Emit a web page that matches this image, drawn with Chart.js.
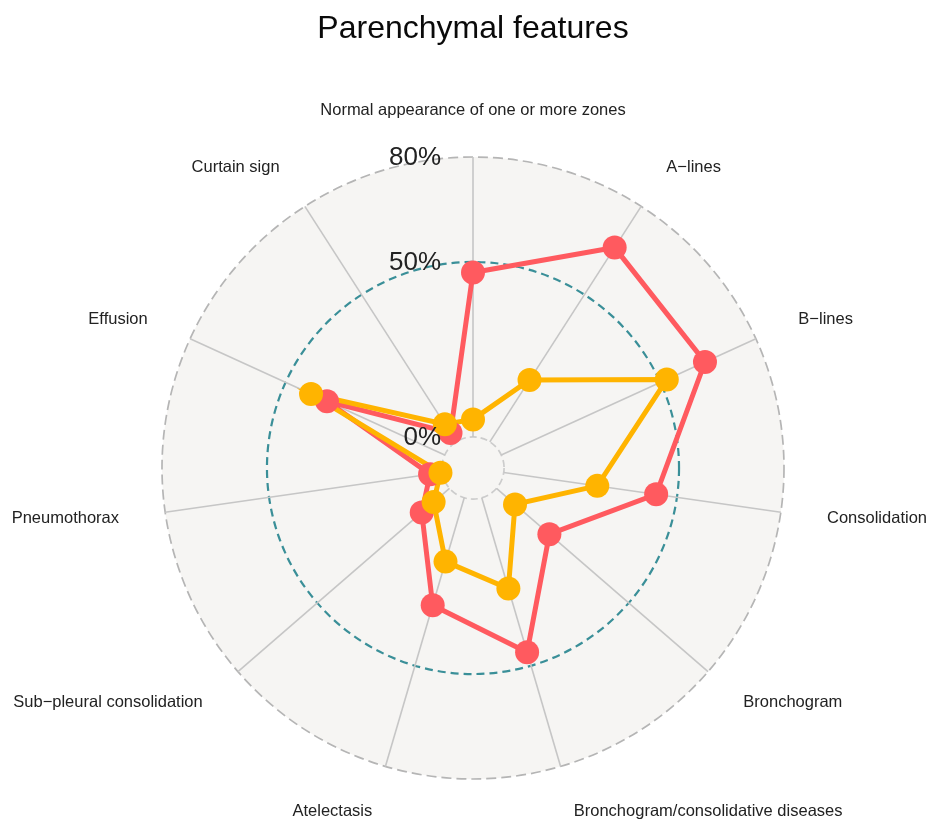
<!DOCTYPE html>
<html><head><meta charset="utf-8">
<script src="https://cdn.jsdelivr.net/npm/chart.js@4/dist/chart.umd.min.js"></script>
<style>html,body{margin:0;padding:0;background:#fff}</style>
</head><body>
<canvas id="c" width="927" height="820" style="width:927px;height:820px;display:block"></canvas>
<script>
const chartTitle = "Parenchymal features";
const categories = ["Normal appearance of one or more zones", "A\u2212lines", "B\u2212lines", "Consolidation", "Bronchogram", "Bronchogram/consolidative diseases", "Atelectasis", "Sub\u2212pleural consolidation", "Pneumothorax", "Effusion", "Curtain sign"];
const seriesRed = [47, 66, 64, 44, 20, 46, 32, 10.5, 3.5, 37, 3];
const seriesYellow = [5, 21, 52, 27, 7, 27, 19, 6, 0.5, 42, 6];
const tickValues = [0, 50, 80];
const tickLabels = ["0%", "50%", "80%"];
const gridMin = 0, gridMid = 50, gridMax = 80;
const centreY = gridMin - (gridMax - gridMin) / 9;
const labelOffset = 1.15;

const RED = '#FF5A5F', YELLOW = '#FFB400', TEAL = '#3a8f98';
const FONT = '"Liberation Sans", Arial, sans-serif';

const radarDecor = {
  id: 'radarDecor',
  beforeDraw(chart) {
    const s = chart.scales.r, ctx = chart.ctx;
    ctx.save();
    ctx.fillStyle = '#f6f5f3';
    ctx.beginPath();
    ctx.arc(s.xCenter, s.yCenter, s.getDistanceFromCenterForValue(gridMax), 0, Math.PI * 2);
    ctx.fill();
    ctx.restore();
  },
  beforeDatasetsDraw(chart) {
    const s = chart.scales.r, ctx = chart.ctx;
    ctx.save();
    ctx.strokeStyle = '#c6c6c6';
    ctx.lineWidth = 1.6;
    const r0 = s.getDistanceFromCenterForValue(gridMin);
    const r1 = s.getDistanceFromCenterForValue(gridMax);
    for (let i = 0; i < categories.length; i++) {
      const p0 = s.getPointPosition(i, r0), p1 = s.getPointPosition(i, r1);
      ctx.beginPath();
      ctx.moveTo(p0.x, p0.y);
      ctx.lineTo(p1.x, p1.y);
      ctx.stroke();
    }
    ctx.restore();
  },
  afterDraw(chart) {
    const s = chart.scales.r, ctx = chart.ctx;
    ctx.save();
    // title
    ctx.fillStyle = '#0a0a0a';
    ctx.font = '32px ' + FONT;
    ctx.textAlign = 'center';
    ctx.textBaseline = 'alphabetic';
    ctx.fillText(chartTitle, s.xCenter, 38);
    // axis labels
    ctx.font = '16.5px ' + FONT;
    ctx.fillStyle = '#222';
    ctx.textBaseline = 'middle';
    const rl = s.getDistanceFromCenterForValue(centreY + labelOffset * (gridMax - centreY));
    categories.forEach((lab, i) => {
      const p = s.getPointPosition(i, rl);
      const dx = p.x - s.xCenter;
      ctx.textAlign = dx > 1 ? 'left' : (dx < -1 ? 'right' : 'center');
      ctx.fillText(lab, p.x, p.y);
    });
    // grid labels
    ctx.font = '26px ' + FONT;
    ctx.fillStyle = '#222';
    ctx.textAlign = 'right';
    tickValues.forEach((v, i) => {
      const y = s.yCenter - s.getDistanceFromCenterForValue(v);
      ctx.fillText(tickLabels[i], s.xCenter - 32, y + 1);
    });
    ctx.restore();
  }
};

const tv = c => (c && c.tick) ? c.tick.value : null;

new Chart(document.getElementById('c'), {
  type: 'radar',
  data: {
    labels: categories,
    datasets: [
      { label: 'red', data: seriesRed, borderColor: RED, borderWidth: 5, pointRadius: 0, pointHoverRadius: 0, fill: false, order: 3 },
      { label: 'yellow', data: seriesYellow, borderColor: YELLOW, borderWidth: 5, pointRadius: 0, pointHoverRadius: 0, fill: false, order: 2 },
      { label: 'red pts', data: seriesRed, showLine: false, pointRadius: 12, pointHoverRadius: 12, pointBorderWidth: 0, pointBackgroundColor: RED, pointBorderColor: RED, fill: false, order: 1 },
      { label: 'yellow pts', data: seriesYellow, showLine: false, pointRadius: 12, pointHoverRadius: 12, pointBorderWidth: 0, pointBackgroundColor: YELLOW, pointBorderColor: YELLOW, fill: false, order: 0 }
    ]
  },
  options: {
    responsive: false,
    devicePixelRatio: 1,
    animation: false,
    events: [],
    layout: { padding: { left: 162, right: 143, top: 157, bottom: 41 } },
    elements: { line: { tension: 0 } },
    plugins: { legend: { display: false }, title: { display: false }, tooltip: { enabled: false } },
    scales: {
      r: {
        min: centreY,
        max: gridMax,
        startAngle: 0,
        afterBuildTicks: scale => { scale.ticks = tickValues.map(v => ({ value: v })); },
        ticks: { display: false },
        pointLabels: { display: false },
        angleLines: { display: false },
        grid: {
          circular: true,
          color: c => tv(c) === gridMid ? TEAL : (tv(c) === gridMin ? '#cccccc' : '#b5b5b5'),
          lineWidth: c => tv(c) === gridMid ? 2.2 : 1.7
        },
        border: {
          dash: c => tv(c) === gridMid ? [8, 5] : (tv(c) === gridMin ? [7, 4] : [10, 5])
        }
      }
    }
  },
  plugins: [radarDecor]
});
</script>
</body></html>
